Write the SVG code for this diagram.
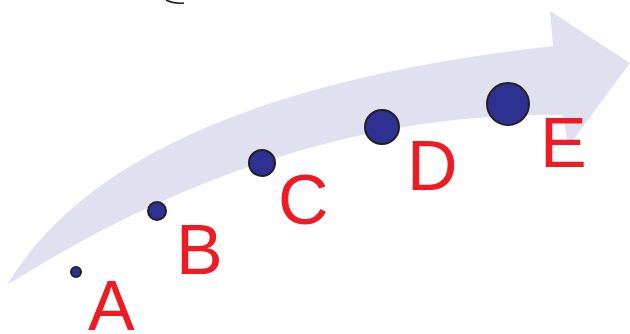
<svg xmlns="http://www.w3.org/2000/svg" width="630" height="334" viewBox="0 0 630 334">
<style>
.dot{fill:#2e3192;stroke:#231f20;stroke-width:2}
.lbl{font-family:"Liberation Sans",Arial,sans-serif;font-size:70px;fill:#ed1c24}
</style>
<rect width="630" height="334" fill="#ffffff"/>
<path d="M166,0 Q174,4 184,3" fill="none" stroke="#231f20" stroke-width="1.5"/>
<g id="connectors">
<path id="arrow" d="M7,285 Q120,94.5 553,46 L550,11 L630,63 L568,147 L563,115 Q285,110 7,285 Z" fill="#e0e0f0"/>
</g>
<g id="A"><circle class="dot" cx="76" cy="272" r="5" stroke-width="1.5"/><text class="lbl" x="88" y="330">A</text></g>
<g id="B"><circle class="dot" cx="157" cy="211" r="9"/><text class="lbl" x="176" y="274">B</text></g>
<g id="C"><circle class="dot" cx="262" cy="163" r="13"/><text class="lbl" x="278" y="224">C</text></g>
<g id="D"><circle class="dot" cx="382" cy="127" r="17"/><text class="lbl" x="407" y="190">D</text></g>
<g id="E"><circle class="dot" cx="508" cy="104" r="21" stroke-width="2.5"/><text class="lbl" x="540" y="167">E</text></g>
</svg>
